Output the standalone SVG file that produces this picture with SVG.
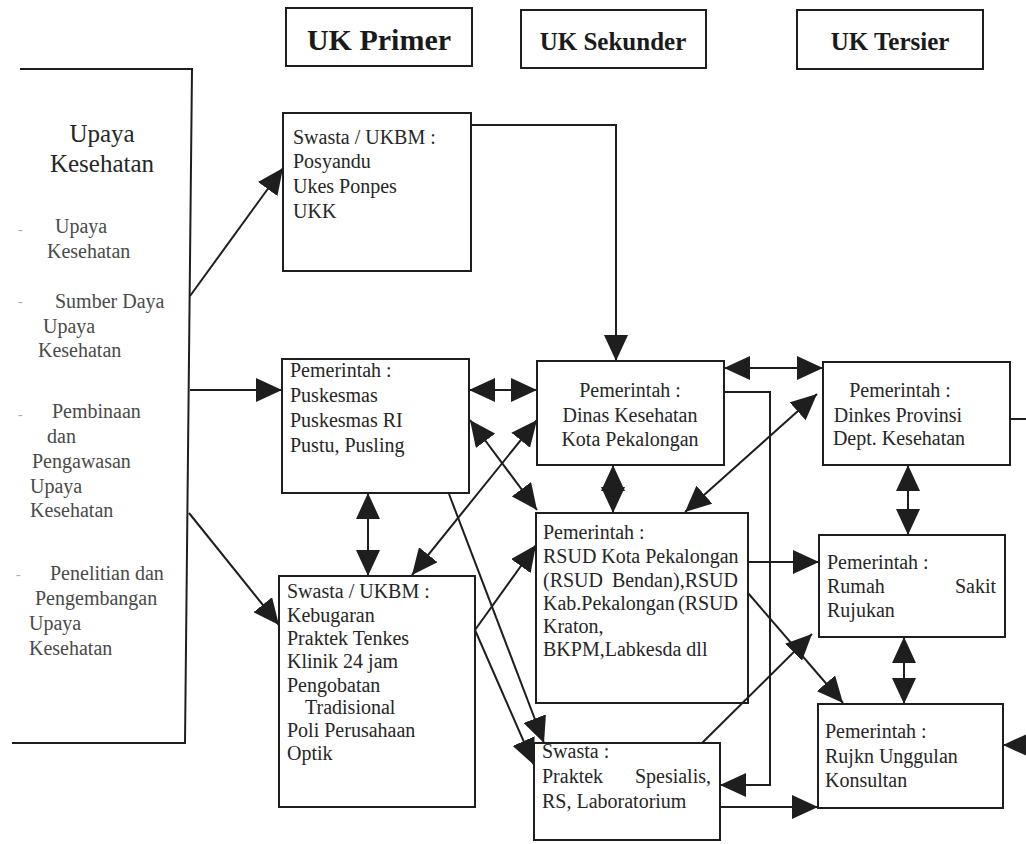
<svg xmlns="http://www.w3.org/2000/svg" width="1026" height="844" viewBox="0 0 1026 844">
  <style>
    .bx{fill:none;stroke:#1e1e1e;stroke-width:2}
    .hd{font-family:"Liberation Serif","Times New Roman",serif;font-weight:bold;fill:#1a1a1a;text-anchor:middle}
    .t{font-family:"Liberation Serif","Times New Roman",serif;font-size:20px;fill:#262626}
    .s{font-family:"Liberation Serif","Times New Roman",serif;font-size:20px;fill:#4a4a4a}
    .b{font-family:"Liberation Serif","Times New Roman",serif;font-size:14px;fill:#aaa}
    .c{text-anchor:middle}
    .e{text-anchor:end}
    .ln{fill:none;stroke:#1e1e1e;stroke-width:2}
  </style>
  <defs>
    <marker id="ah" viewBox="0 0 26 24" refX="26" refY="12" markerWidth="26" markerHeight="24" markerUnits="userSpaceOnUse" orient="auto-start-reverse">
      <path d="M0,0 L26,12 L0,24 z" fill="#1e1e1e"/>
    </marker>
  </defs>
  <rect width="1026" height="844" fill="#ffffff"/>

  <g id="hdr-primer">
    <rect class="bx" x="286" y="8" width="186" height="58"/>
    <text class="hd" x="379" y="50" font-size="30">UK Primer</text>
  </g>
  <g id="hdr-sekunder">
    <rect class="bx" x="521" y="10" width="185" height="58"/>
    <text class="hd" x="613" y="50" font-size="25">UK Sekunder</text>
  </g>
  <g id="hdr-tersier">
    <rect class="bx" x="797" y="10" width="186" height="59"/>
    <text class="hd" x="890" y="50" font-size="25">UK Tersier</text>
  </g>

  <g id="upaya-kesehatan">
    <path class="bx" d="M20,69 L192,69 L185,743 L12,743"/>
    <text class="t c" x="102" y="142" style="font-size:25px">Upaya</text>
    <text class="t c" x="102" y="172" style="font-size:25px">Kesehatan</text>
    <text class="b" x="18" y="234">-</text>
    <text class="s" x="55" y="233">Upaya</text>
    <text class="s" x="47" y="258">Kesehatan</text>
    <text class="b" x="18" y="306">-</text>
    <text class="s" x="55" y="308">Sumber Daya</text>
    <text class="s" x="43" y="333">Upaya</text>
    <text class="s" x="38" y="357">Kesehatan</text>
    <text class="b" x="18" y="419">-</text>
    <text class="s" x="52" y="418">Pembinaan</text>
    <text class="s" x="47" y="443">dan</text>
    <text class="s" x="32" y="468">Pengawasan</text>
    <text class="s" x="30" y="493">Upaya</text>
    <text class="s" x="30" y="517">Kesehatan</text>
    <text class="b" x="16" y="579">-</text>
    <text class="s" x="50" y="580">Penelitian dan</text>
    <text class="s" x="35" y="605">Pengembangan</text>
    <text class="s" x="29" y="630">Upaya</text>
    <text class="s" x="29" y="655">Kesehatan</text>
  </g>

  <g id="primer-swasta-ukbm-1">
    <rect class="bx" x="283" y="113" width="188" height="158"/>
    <text class="t" x="293" y="144">Swasta / UKBM :</text>
    <text class="t" x="293" y="168">Posyandu</text>
    <text class="t" x="293" y="193">Ukes Ponpes</text>
    <text class="t" x="293" y="218">UKK</text>
  </g>

  <g id="primer-pemerintah">
    <rect class="bx" x="282" y="359" width="187" height="134"/>
    <text class="t" x="290" y="377">Pemerintah :</text>
    <text class="t" x="290" y="402">Puskesmas</text>
    <text class="t" x="290" y="427">Puskesmas RI</text>
    <text class="t" x="290" y="452">Pustu, Pusling</text>
  </g>

  <g id="primer-swasta-ukbm-2">
    <rect class="bx" x="279" y="576" width="196" height="231"/>
    <text class="t" x="287" y="598">Swasta / UKBM :</text>
    <text class="t" x="287" y="622">Kebugaran</text>
    <text class="t" x="287" y="645">Praktek Tenkes</text>
    <text class="t" x="287" y="668">Klinik 24 jam</text>
    <text class="t" x="287" y="692">Pengobatan</text>
    <text class="t" x="305" y="714">Tradisional</text>
    <text class="t" x="287" y="737">Poli Perusahaan</text>
    <text class="t" x="287" y="760">Optik</text>
  </g>

  <g id="sekunder-dinas">
    <rect class="bx" x="537" y="361" width="187" height="104"/>
    <text class="t c" x="630" y="397">Pemerintah :</text>
    <text class="t c" x="630" y="422">Dinas Kesehatan</text>
    <text class="t c" x="630" y="446">Kota Pekalongan</text>
  </g>

  <g id="sekunder-rsud">
    <rect class="bx" x="536" y="513" width="212" height="190"/>
    <text class="t" x="543" y="539">Pemerintah :</text>
    <text class="t" x="543" y="563">RSUD Kota Pekalongan</text>
    <text class="t" x="543" y="587">(RSUD</text>
    <text class="t e" x="738" y="587">Bendan),RSUD</text>
    <text class="t" x="543" y="610">Kab.Pekalongan</text>
    <text class="t e" x="738" y="610">(RSUD</text>
    <text class="t" x="543" y="633">Kraton,</text>
    <text class="t" x="543" y="656">BKPM,Labkesda dll</text>
  </g>

  <g id="sekunder-swasta">
    <rect class="bx" x="534" y="743" width="186" height="97"/>
    <text class="t" x="542" y="758">Swasta :</text>
    <text class="t" x="542" y="783">Praktek</text>
    <text class="t e" x="711" y="783">Spesialis,</text>
    <text class="t" x="542" y="808">RS, Laboratorium</text>
  </g>

  <g id="tersier-dinkes">
    <rect class="bx" x="823" y="362" width="187" height="103"/>
    <text class="t c" x="900" y="397">Pemerintah :</text>
    <text class="t c" x="898" y="422">Dinkes Provinsi</text>
    <text class="t c" x="899" y="445">Dept. Kesehatan</text>
  </g>

  <g id="tersier-rs-rujukan">
    <rect class="bx" x="819" y="535" width="186" height="102"/>
    <text class="t" x="827" y="569">Pemerintah :</text>
    <text class="t" x="827" y="593">Rumah</text>
    <text class="t e" x="996" y="593">Sakit</text>
    <text class="t" x="827" y="617">Rujukan</text>
  </g>

  <g id="tersier-unggulan">
    <rect class="bx" x="818" y="704" width="185" height="104"/>
    <text class="t" x="825" y="738">Pemerintah :</text>
    <text class="t" x="825" y="763">Rujkn Unggulan</text>
    <text class="t" x="825" y="787">Konsultan</text>
  </g>

  <g id="connectors">
    <line class="ln" x1="190" y1="296" x2="283" y2="168" marker-end="url(#ah)"/>
    <line class="ln" x1="190" y1="390" x2="282" y2="390" marker-end="url(#ah)"/>
    <line class="ln" x1="189" y1="513" x2="279" y2="625" marker-end="url(#ah)"/>
    <path class="ln" d="M471,125 H616 V361" marker-end="url(#ah)"/>
    <line class="ln" x1="469" y1="390" x2="537" y2="390" marker-start="url(#ah)" marker-end="url(#ah)"/>
    <line class="ln" x1="470" y1="420" x2="537" y2="510" marker-start="url(#ah)" marker-end="url(#ah)"/>
    <line class="ln" x1="537" y1="420" x2="412" y2="575" marker-start="url(#ah)" marker-end="url(#ah)"/>
    <line class="ln" x1="368" y1="493" x2="368" y2="576" marker-start="url(#ah)" marker-end="url(#ah)"/>
    <line class="ln" x1="449" y1="494" x2="544" y2="743" marker-end="url(#ah)"/>
    <line class="ln" x1="475" y1="630" x2="534" y2="765" marker-end="url(#ah)"/>
    <line class="ln" x1="475" y1="630" x2="536" y2="545" marker-end="url(#ah)"/>
    <line class="ln" x1="724" y1="368" x2="823" y2="368" marker-start="url(#ah)" marker-end="url(#ah)"/>
    <line class="ln" x1="613" y1="465" x2="613" y2="513" marker-start="url(#ah)" marker-end="url(#ah)"/>
    <line class="ln" x1="685" y1="512" x2="817" y2="394" marker-start="url(#ah)" marker-end="url(#ah)"/>
    <path class="ln" d="M724,392 H770 V785 H720" marker-end="url(#ah)"/>
    <line class="ln" x1="748" y1="562" x2="819" y2="562" marker-end="url(#ah)"/>
    <line class="ln" x1="748" y1="593" x2="843" y2="703" marker-end="url(#ah)"/>
    <line class="ln" x1="702" y1="743" x2="812" y2="634" marker-end="url(#ah)"/>
    <line class="ln" x1="720" y1="807" x2="818" y2="807" marker-end="url(#ah)"/>
    <line class="ln" x1="908" y1="465" x2="908" y2="535" marker-start="url(#ah)" marker-end="url(#ah)"/>
    <line class="ln" x1="904" y1="637" x2="904" y2="704" marker-start="url(#ah)" marker-end="url(#ah)"/>
    <path class="ln" d="M1010,419 H1045 V745 H1003" marker-end="url(#ah)"/>
  </g>
</svg>
